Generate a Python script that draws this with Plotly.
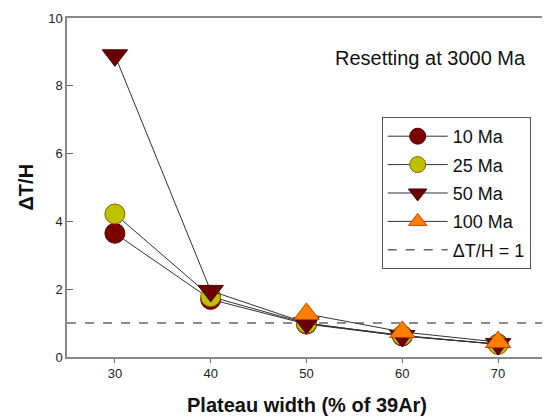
import plotly.graph_objects as go

x_all = [30, 40, 50, 60, 70]
y_10 = [3.65, 1.70, 0.97, 0.62, 0.38]
y_25 = [4.22, 1.78, 0.99, 0.64, 0.37]
y_50 = [8.90, 1.95, 1.00, 0.62, 0.38]
x_100 = [50, 60, 70]
y_100 = [1.27, 0.74, 0.44]
ref_x = [25, 75]
ref_y = [1, 1]

series = [
    ("10 Ma", x_all, y_10, "circle", "#7d0000", "#5a0000", 20),
    ("25 Ma", x_all, y_25, "circle", "#bcc200", "#9a5a00", 20),
    ("50 Ma", x_all, y_50, "triangle-down", "#6a0000", "#4a0000", 22),
    ("100 Ma", x_100, y_100, "triangle-up", "#ff8000", "#c04000", 22),
]

FONT = "Liberation Sans, Arial"

fig = go.Figure()
fig.add_trace(go.Scatter(x=ref_x, y=ref_y, mode="lines", name="ΔT/H = 1",
                         line=dict(color="#666666", width=1.5, dash="dash"),
                         legendrank=5, legendgroup="ref", showlegend=True))
for i, (name, xs, ys, sym, col, edge, sz) in enumerate(series):
    fig.add_trace(go.Scatter(x=xs, y=ys, mode="lines+markers", name=name,
                             legendgroup=name, legendrank=i + 1,
                             line=dict(color="#333333", width=1),
                             marker=dict(symbol=sym, size=sz, color=col,
                                         line=dict(color=edge, width=1))))

fig.add_annotation(x=0.9626, y=0.882, xref="paper", yref="paper",
                   text="Resetting at 3000 Ma", showarrow=False,
                   xanchor="right", yanchor="middle",
                   font=dict(size=20, color="#111111", family=FONT))
fig.add_annotation(x=0.5, y=0, xref="paper", yref="paper", yshift=-48,
                   text="<b>Plateau width (% of 39Ar)</b>", showarrow=False,
                   xanchor="center", yanchor="middle",
                   font=dict(size=20, color="#111111", family=FONT))
fig.add_annotation(x=0, y=0.5, xref="paper", yref="paper", xshift=-42,
                   text="<b>ΔT/H</b>", showarrow=False, textangle=-90,
                   xanchor="center", yanchor="middle",
                   font=dict(size=20, color="#111111", family=FONT))

fig.update_layout(
    width=542, height=411,
    margin=dict(l=59, r=2, t=10, b=62),
    paper_bgcolor="white", plot_bgcolor="white",
    font=dict(family=FONT, color="#222222"),
    showlegend=True,
    legend=dict(x=0.657, y=0.708, xanchor="left", yanchor="top",
                bordercolor="#555555", borderwidth=1, bgcolor="white",
                font=dict(size=18, color="#111111", family=FONT),
                tracegroupgap=2, itemwidth=60),
    xaxis=dict(range=[25, 75], tickvals=[30, 40, 50, 60, 70],
               ticks="outside", ticklen=4, tickcolor="#666666",
               showline=True, linecolor="#888888", linewidth=1.5, mirror=True,
               showgrid=False, zeroline=False,
               tickfont=dict(size=13, color="#222222")),
    yaxis=dict(range=[0, 10], tickvals=[0, 2, 4, 6, 8, 10],
               ticks="inside", ticklen=6, tickcolor="#666666",
               showline=True, linecolor="#888888", linewidth=1.5, mirror=True,
               showgrid=False, zeroline=False,
               tickfont=dict(size=13, color="#222222")),
)

fig.write_html("out.html")
